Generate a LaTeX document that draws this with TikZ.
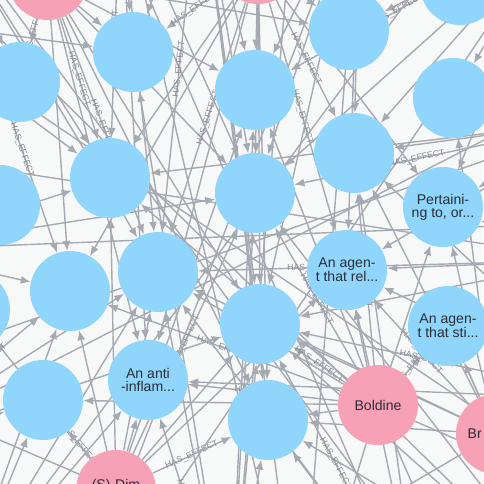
\documentclass[tikz,border=0pt]{standalone}
\usepackage{fontspec}
\setmainfont{Liberation Sans}
\usetikzlibrary{arrows.meta}

\definecolor{effectblue}{HTML}{8FD5FC}
\definecolor{drugpink}{HTML}{F7A1B7}
\definecolor{relgrey}{HTML}{A5A9B2}
\definecolor{labelgrey}{HTML}{868A93}
\definecolor{canvas}{HTML}{F7F8F8}
\definecolor{nodetext}{HTML}{2B2E36}

\pgfdeclarelayer{bg}
\pgfdeclarelayer{rels}
\pgfsetlayers{bg,rels,main}

\tikzset{
  effect/.style = {circle, fill = effectblue, minimum size = 2.4cm,
      inner sep = 0pt, align = center, text = nodetext,
      font = \fontsize{12}{11}\selectfont},
  drug/.style = {circle, fill = drugpink, minimum size = 2.4cm,
      inner sep = 0pt, align = center, text = nodetext,
      font = \fontsize{12}{11}\selectfont},
  rel/.style = {draw = relgrey, line width = 1.2pt,
      -{Latex[length = 0.3cm, width = 0.24cm]}},
  hl/.style = {sloped, text = labelgrey, inner sep = 1pt,
      font = \fontsize{7.5}{8}\selectfont}
}

\begin{document}
\begin{tikzpicture}[x = 0.03cm, y = -0.03cm]
\useasboundingbox (0,0) rectangle (483,484);
\begin{pgfonlayer}{bg}
  \fill[canvas] (0,0) rectangle (483,484);
\end{pgfonlayer}

% drugs
\node[drug] (pA) at (48,-20) {};
\node[drug] (pB) at (258,-36) {};
\node[drug] (boldine) at (378,405) {Boldine};
\node[drug, text width = 1.7cm, align = left] (pC) at (496,434) {Br};
\node[drug, label = {[yshift = 0.13cm, text = nodetext,
    font = \fontsize{12}{11}\selectfont]center:(S)-Dim}] (pD) at (116,490) {};

% effects, top row
\node[effect] (e1) at (133,52) {};
\node[effect] (e2) at (20,82) {};
\node[effect] (e3) at (349,30) {};
\node[effect] (e4) at (460,-15) {};
\node[effect] (e5) at (255,90) {};
\node[effect] (e6) at (453,98) {};

% effects, middle
\node[effect] (e7) at (354,153) {};
\node[effect] (e8) at (110,178) {};
\node[effect] (e9) at (0,205) {};
\node[effect] (e10) at (255,193) {};
\node[effect] (e11) at (443,207) {Pertaini-\\ng to, or...};
\node[effect] (e12) at (158,272) {};
\node[effect] (e13) at (70,291) {};
\node[effect] (e14) at (347,270) {An agen-\\t that rel...};
\node[effect] (e15) at (-30,310) {};
\node[effect] (e16) at (260,324) {};
\node[effect] (e17) at (448,326) {An agen-\\t that sti...};

% effects, bottom
\node[effect] (e18) at (148,380) {An anti\\-inflam...};
\node[effect] (e19) at (43,400) {};
\node[effect] (e20) at (268,420) {};
\node[effect] (e21) at (342,524) {};

% drugs out of view
\coordinate (d1) at (-60,-90);
\coordinate (d2) at (120,-110);
\coordinate (d3) at (560,-80);
\coordinate (d4) at (600,120);
\coordinate (d5) at (590,260);
\coordinate (d6) at (620,400);
\coordinate (d7) at (570,600);
\coordinate (d8) at (420,620);
\coordinate (d9) at (230,640);
\coordinate (d10) at (-40,600);
\coordinate (d11) at (-120,450);
\coordinate (d12) at (-110,250);
\coordinate (d13) at (-100,20);
\coordinate (d14) at (360,-120);
\coordinate (d15) at (200,-130);

% effects out of view
\coordinate (f1) at (-80,-40);
\coordinate (f2) at (80,-160);
\coordinate (f3) at (300,-170);
\coordinate (f4) at (520,-150);
\coordinate (f5) at (640,60);
\coordinate (f6) at (650,220);
\coordinate (f7) at (640,520);
\coordinate (f8) at (480,640);
\coordinate (f9) at (300,660);
\coordinate (f10) at (60,660);
\coordinate (f11) at (-140,380);
\coordinate (f12) at (-130,150);

\begin{pgfonlayer}{rels}
% from the drugs in view
\draw[rel] (pA) -- (e1);
\draw[rel] (pA) -- node[hl] {HAS\_EFFECT} (e2);
\draw[rel] (pA) -- (e5);
\draw[rel] (pA) -- node[hl] {HAS\_EFFECT} (e8);
\draw[rel] (pA) -- (e10);
\draw[rel] (pA) -- node[hl] {HAS\_EFFECT} (e12);
\draw[rel] (pA) -- (e13);
\draw[rel] (pA) -- node[hl] {HAS\_EFFECT} (e18);
\draw[rel] (pA) -- (e3);
\draw[rel] (pA) -- (e16);
\draw[rel] (pA) -- (e20);
\draw[rel] (pA) -- (f1);
\draw[rel] (pB) -- node[hl] {HAS\_EFFECT} (e1);
\draw[rel] (pB) -- (e5);
\draw[rel] (pB) -- (e3);
\draw[rel] (pB) -- node[hl] {HAS\_EFFECT} (e7);
\draw[rel] (pB) -- node[hl] {HAS\_EFFECT} (e10);
\draw[rel] (pB) -- node[hl] {HAS\_EFFECT} (e12);
\draw[rel] (pB) -- (e16);
\draw[rel] (pB) -- node[hl] {HAS\_EFFECT} (e14);
\draw[rel] (pB) -- (e8);
\draw[rel] (pB) -- (e11);
\draw[rel] (pB) -- (e18);
\draw[rel] (pB) -- (e20);
\draw[rel] (pB) -- (e13);
\draw[rel] (pB) -- (f3);
\draw[rel] (boldine) -- (e14);
\draw[rel] (boldine) -- node[hl] {HAS\_EFFECT} (e16);
\draw[rel] (boldine) -- node[hl] {HAS\_EFFECT} (e17);
\draw[rel] (boldine) -- (e20);
\draw[rel] (boldine) -- node[hl] {HAS\_EFFECT} (e18);
\draw[rel] (boldine) -- (e12);
\draw[rel] (boldine) -- node[hl] {HAS\_EFFECT} (e7);
\draw[rel] (boldine) -- (e11);
\draw[rel] (boldine) -- node[hl] {HAS\_EFFECT} (e10);
\draw[rel] (boldine) -- node[hl] {HAS\_EFFECT} (e13);
\draw[rel] (boldine) -- (e19);
\draw[rel] (boldine) -- (e8);
\draw[rel] (boldine) -- (e5);
\draw[rel] (boldine) -- (f7);
\draw[rel] (boldine) -- (f8);
\draw[rel] (boldine) -- (f9);
\draw[rel] (pC) -- (e17);
\draw[rel] (pC) -- node[hl] {HAS\_EFFECT} (e14);
\draw[rel] (pC) -- (e11);
\draw[rel] (pC) -- (e16);
\draw[rel] (pC) -- node[hl] {HAS\_EFFECT} (e20);
\draw[rel] (pC) -- (e7);
\draw[rel] (pC) -- (e6);
\draw[rel] (pC) -- (e21);
\draw[rel] (pC) -- (e12);
\draw[rel] (pC) -- (f6);
\draw[rel] (pD) -- (e18);
\draw[rel] (pD) -- node[hl] {HAS\_EFFECT} (e19);
\draw[rel] (pD) -- (e13);
\draw[rel] (pD) -- node[hl] {HAS\_EFFECT} (e12);
\draw[rel] (pD) -- node[hl] {HAS\_EFFECT} (e20);
\draw[rel] (pD) -- (e16);
\draw[rel] (pD) -- node[hl] {HAS\_EFFECT} (e10);
\draw[rel] (pD) -- (e8);
\draw[rel] (pD) -- (e15);
\draw[rel] (pD) -- (e14);
\draw[rel] (pD) -- (e5);
\draw[rel] (pD) -- (f10);
\draw[rel] (pD) -- (f11);

% from the drugs out of view
\draw[rel] (d1) -- (e2);
\draw[rel] (d1) -- (e8);
\draw[rel] (d1) -- (e9);
\draw[rel] (d1) -- node[hl, pos = 0.7] {HAS\_EFFECT} (e13);
\draw[rel] (d1) -- (e12);
\draw[rel] (d1) -- (f8);
\draw[rel] (d2) -- (e1);
\draw[rel] (d2) -- node[hl, pos = 0.6] {HAS\_EFFECT} (e8);
\draw[rel] (d2) -- (e12);
\draw[rel] (d2) -- (e10);
\draw[rel] (d2) -- (e18);
\draw[rel] (d2) -- (f9);
\draw[rel] (d3) -- (e4);
\draw[rel] (d3) -- (e6);
\draw[rel] (d3) -- node[hl, pos = 0.55] {HAS\_EFFECT} (e3);
\draw[rel] (d3) -- (e7);
\draw[rel] (d3) -- (e11);
\draw[rel] (d3) -- node[hl, pos = 0.6] {HAS\_EFFECT} (e5);
\draw[rel] (d3) -- (e10);
\draw[rel] (d3) -- (f10);
\draw[rel] (d4) -- (e6);
\draw[rel] (d4) -- (e11);
\draw[rel] (d4) -- (e7);
\draw[rel] (d4) -- (e14);
\draw[rel] (d4) -- node[hl, pos = 0.6] {HAS\_EFFECT} (e10);
\draw[rel] (d4) -- (e8);
\draw[rel] (d4) -- (f11);
\draw[rel] (d5) -- (e17);
\draw[rel] (d5) -- (e11);
\draw[rel] (d5) -- (e14);
\draw[rel] (d5) -- (e16);
\draw[rel] (d5) -- node[hl, pos = 0.7] {HAS\_EFFECT} (e12);
\draw[rel] (d5) -- (f12);
\draw[rel] (d6) -- (e17);
\draw[rel] (d6) -- node[hl, pos = 0.6] {HAS\_EFFECT} (e16);
\draw[rel] (d6) -- (e14);
\draw[rel] (d6) -- (e18);
\draw[rel] (d6) -- (e7);
\draw[rel] (d7) -- (e17);
\draw[rel] (d7) -- (e20);
\draw[rel] (d7) -- (e21);
\draw[rel] (d7) -- (e16);
\draw[rel] (d7) -- (e10);
\draw[rel] (d7) -- (f1);
\draw[rel] (d8) -- (e21);
\draw[rel] (d8) -- (e20);
\draw[rel] (d8) -- node[hl, pos = 0.6] {HAS\_EFFECT} (e16);
\draw[rel] (d8) -- (e14);
\draw[rel] (d8) -- (e12);
\draw[rel] (d8) -- (e7);
\draw[rel] (d8) -- (f2);
\draw[rel] (d9) -- (e20);
\draw[rel] (d9) -- node[hl, pos = 0.6] {HAS\_EFFECT} (e18);
\draw[rel] (d9) -- (e16);
\draw[rel] (d9) -- (e12);
\draw[rel] (d9) -- (e10);
\draw[rel] (d9) -- (e5);
\draw[rel] (d9) -- (e1);
\draw[rel] (d9) -- (f3);
\draw[rel] (d10) -- (e19);
\draw[rel] (d10) -- (e13);
\draw[rel] (d10) -- (e15);
\draw[rel] (d10) -- (e18);
\draw[rel] (d10) -- (e12);
\draw[rel] (d10) -- (f4);
\draw[rel] (d11) -- (e19);
\draw[rel] (d11) -- (e15);
\draw[rel] (d11) -- node[hl, pos = 0.65] {HAS\_EFFECT} (e13);
\draw[rel] (d11) -- (e12);
\draw[rel] (d11) -- (e16);
\draw[rel] (d11) -- (f5);
\draw[rel] (d12) -- (e9);
\draw[rel] (d12) -- (e15);
\draw[rel] (d12) -- (e13);
\draw[rel] (d12) -- (e8);
\draw[rel] (d12) -- (e2);
\draw[rel] (d12) -- (e10);
\draw[rel] (d12) -- (f6);
\draw[rel] (d13) -- (e2);
\draw[rel] (d13) -- (e9);
\draw[rel] (d13) -- (e1);
\draw[rel] (d13) -- (e8);
\draw[rel] (d13) -- (f7);
\draw[rel] (d14) -- (e3);
\draw[rel] (d14) -- (e5);
\draw[rel] (d14) -- node[hl, pos = 0.6] {HAS\_EFFECT} (e7);
\draw[rel] (d14) -- (e10);
\draw[rel] (d14) -- (e14);
\draw[rel] (d14) -- (e16);
\draw[rel] (d14) -- (f9);
\draw[rel] (d14) -- (f10);
\draw[rel] (d15) -- (e1);
\draw[rel] (d15) -- (e5);
\draw[rel] (d15) -- (e10);
\draw[rel] (d15) -- node[hl, pos = 0.55] {HAS\_EFFECT} (e12);
\draw[rel] (d15) -- (e16);
\draw[rel] (d15) -- (e20);
\draw[rel] (d15) -- (f9);
\end{pgfonlayer}

\end{tikzpicture}
\end{document}
